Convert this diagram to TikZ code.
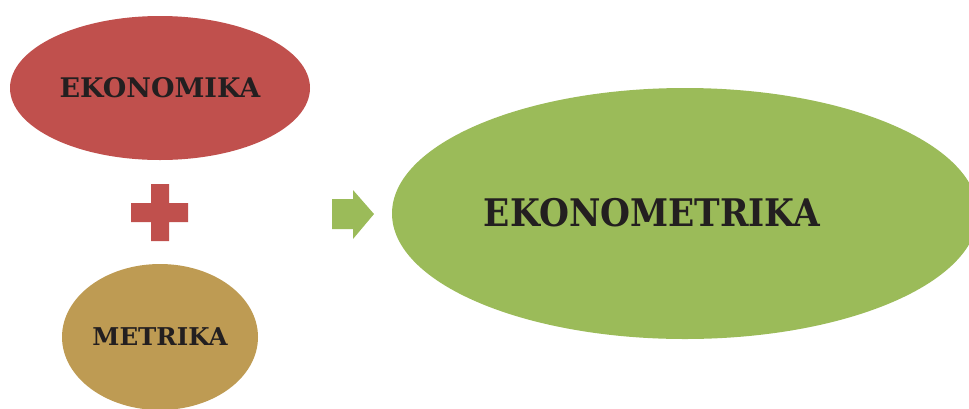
\documentclass[tikz,border=0pt]{standalone}
\usepackage{fontspec}
\setmainfont{DejaVu Serif}
\usepackage{xcolor}
\usetikzlibrary{shapes.geometric}
\usetikzlibrary{positioning}
\definecolor{ekored}{HTML}{C0504D}
\definecolor{ekogreen}{HTML}{9BBB59}
\definecolor{ekotan}{HTML}{BE9B53}
\definecolor{ekotext}{HTML}{231F20}

\begin{document}
\begin{tikzpicture}[x=1pt,y=-1pt]
 				 \tikzstyle{blob}=[ellipse, inner sep=0pt, text=ekotext]
 				 \useasboundingbox (0,0) rectangle (969,408);
 				 \clip (0,0) rectangle (969,408);
						\node[blob, fill=ekored, minimum width=300pt, minimum height=144pt,
						      font=\bfseries\fontsize{27}{30}\selectfont] (E) at (160,88) {EKONOMIKA};
						\node[blob, fill=ekotan, minimum width=196pt, minimum height=146pt,
						      font=\bfseries\fontsize{24.5}{28}\selectfont] (M) at (160,337) {METRIKA};
						\node[blob, fill=ekogreen, minimum width=586pt, minimum height=251pt] (G) at (685,213.5) {};
						\node[text=ekotext, inner sep=0pt, font=\bfseries\fontsize{38}{42}\selectfont] (Gt) at (652,213)
						      {\scalebox{0.905}[1]{EKONOMETRIKA}};
						
						% plus
						\fill[ekored] (151,184) -- (169,184) -- (169,203) -- (188,203) -- (188,222) -- (169,222)
						  -- (169,241) -- (151,241) -- (151,222) -- (131,222) -- (131,203) -- (151,203) -- cycle;
						% block arrow
						\fill[ekogreen] (332,199) -- (353,199) -- (353,190) -- (374,214) -- (353,239) -- (353,229)
						  -- (332,229) -- cycle;
 				\end{tikzpicture}
\end{document}
